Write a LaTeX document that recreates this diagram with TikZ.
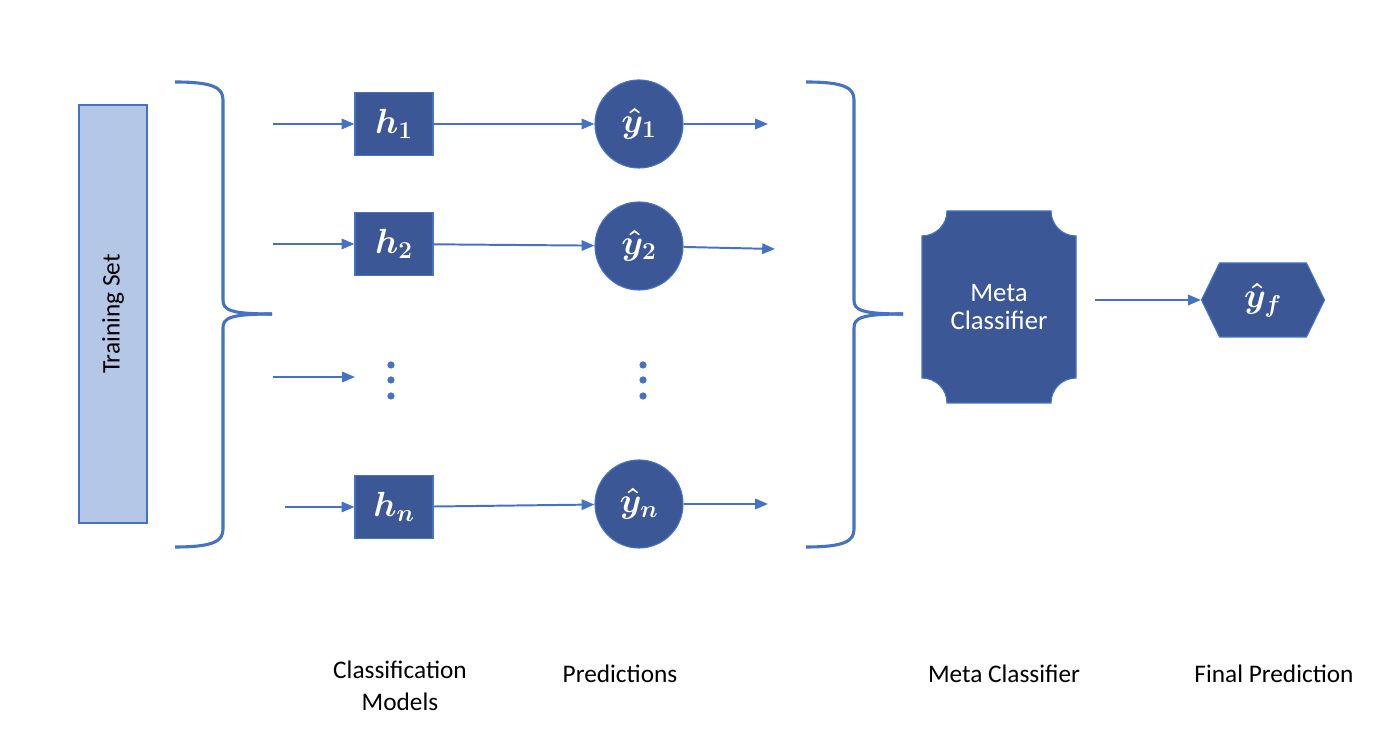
\documentclass[tikz,border=0pt]{standalone}
\usepackage{fontspec}
\setmainfont{Carlito}
\usepackage{amsmath}
\usetikzlibrary{positioning}
\usetikzlibrary{arrows.meta}
\usetikzlibrary{shapes.symbols}
\usetikzlibrary{backgrounds}
\definecolor{lineBlue}{RGB}{68,114,196}
\definecolor{darkBlue}{RGB}{59,87,149}
\definecolor{lightBlue}{RGB}{180,199,231}

\begin{document}
\begin{tikzpicture}[model/.style={rectangle, draw=lineBlue, fill=darkBlue, thick, minimum width=1.95cm, minimum height=1.575cm, text=white, inner sep=0pt, font=\fontsize{23}{27}\selectfont\boldmath},
	pred/.style={circle, draw=lineBlue, fill=darkBlue, thick, minimum size=2.2cm, text=white, inner sep=0pt, font=\fontsize{23}{27}\selectfont\boldmath},
	flow/.style={-{Triangle[length=3.2mm, width=2.6mm]}, draw=lineBlue, line width=1.4pt},
	curly/.style={draw=lineBlue, line width=2.2pt},
	caption/.style={align=center, font=\fontsize{18}{23}\selectfont}]
	\useasboundingbox (0,0) rectangle (34.8,18.6);
	% training data
	\node[draw=lineBlue, fill=lightBlue, thick, rotate=90, minimum width=10.45cm, minimum height=1.7cm, font=\fontsize{18}{22}\selectfont] (train) at (2.825,10.75) {Training Set};
	% braces
	\foreach \bx in {0,15.775} {
		\draw[curly, xshift=\bx cm] (4.375,16.55) .. controls (5.35,16.55) and (5.575,16.4) .. (5.575,16.1) -- (5.575,11.1) .. controls (5.575,10.85) and (5.75,10.75) .. (6.8,10.75);
		\draw[curly, xshift=\bx cm] (4.375,4.925) .. controls (5.35,4.925) and (5.575,5.075) .. (5.575,5.375) -- (5.575,10.4) .. controls (5.575,10.65) and (5.75,10.75) .. (6.8,10.75);
	}
	% classification models
	\node[model] (h1) at (9.85,15.5) {$h_1$};
	\node[model] (h2) at (9.85,12.5) {$h_2$};
	\node[model] (hn) at (9.85,5.925) {$h_n$};
	% predictions
	\node[pred] (y1) at (15.975,15.5) {$\hat{y}_1$};
	\node[pred] (y2) at (15.975,12.45) {$\hat{y}_2$};
	\node[pred] (yn) at (15.975,6.0) {$\hat{y}_n$};
	\fill[lineBlue] (9.775,9.475) circle (0.09) (9.775,9.1) circle (0.09) (9.775,8.7) circle (0.09);
	\fill[lineBlue] (16.075,9.475) circle (0.09) (16.075,9.1) circle (0.09) (16.075,8.7) circle (0.09);
	% inputs and outputs
	\coordinate (in1) at (6.825,15.5);
	\coordinate (in2) at (6.825,12.5);
	\coordinate (in3) at (6.825,9.175);
	\coordinate (dots) at (8.875,9.175);
	\coordinate (inn) at (7.125,5.925);
	\coordinate (out1) at (19.2,15.5);
	\coordinate (out2) at (19.375,12.375);
	\coordinate (outn) at (19.2,6.0);
	\draw[flow] (in1) -- (h1);
	\draw[flow] (in2) -- (h2);
	\draw[flow] (in3) -- (dots);
	\draw[flow] (inn) -- (hn);
	\draw[flow] (h1) -- (y1);
	\draw[flow] (h2) -- (y2);
	\draw[flow] (hn) -- (yn);
	\draw[flow] (y1) -- (out1);
	\draw[flow] (y2) -- (out2);
	\draw[flow] (yn) -- (outn);
	% meta classifier
	\node[minimum width=3.85cm, minimum height=4.8cm, outer sep=0pt, text=white, align=center, font=\fontsize{19}{20}\selectfont] (meta) at (24.975,10.925) {Meta\\Classifier};
	\begin{scope}[on background layer]
		\filldraw[draw=lineBlue, fill=darkBlue, thick] ([xshift=0.625cm]meta.north west) -- ([xshift=-0.625cm]meta.north east)
		arc[start angle=180, end angle=270, radius=0.625cm] -- ([yshift=0.625cm]meta.south east)
		arc[start angle=90, end angle=180, radius=0.625cm] -- ([xshift=0.625cm]meta.south west)
		arc[start angle=0, end angle=90, radius=0.625cm] -- ([yshift=-0.625cm]meta.north west)
		arc[start angle=270, end angle=360, radius=0.625cm] -- cycle;
	\end{scope}
	% final prediction
	\node[signal, signal to=east and west, signal pointer angle=128, draw=lineBlue, fill=darkBlue, thick, minimum width=3.075cm, minimum height=1.85cm, inner sep=0pt, text=white, font=\fontsize{23}{27}\selectfont\boldmath] (final) at (31.575,11.1) {$\hat{y}_f$};
	\coordinate (metaout) at (27.375,11.1);
	\draw[flow] (metaout) -- (final);
	% captions
	\node[caption] (capModels) at (10.0,1.45) {Classification\\Models};
	\node[caption] (capPred) at (15.5,1.75) {Predictions};
	\node[caption] (capMeta) at (25.1,1.75) {Meta Classifier};
	\node[caption] (capFinal) at (31.85,1.75) {Final Prediction};
\end{tikzpicture}
\end{document}
